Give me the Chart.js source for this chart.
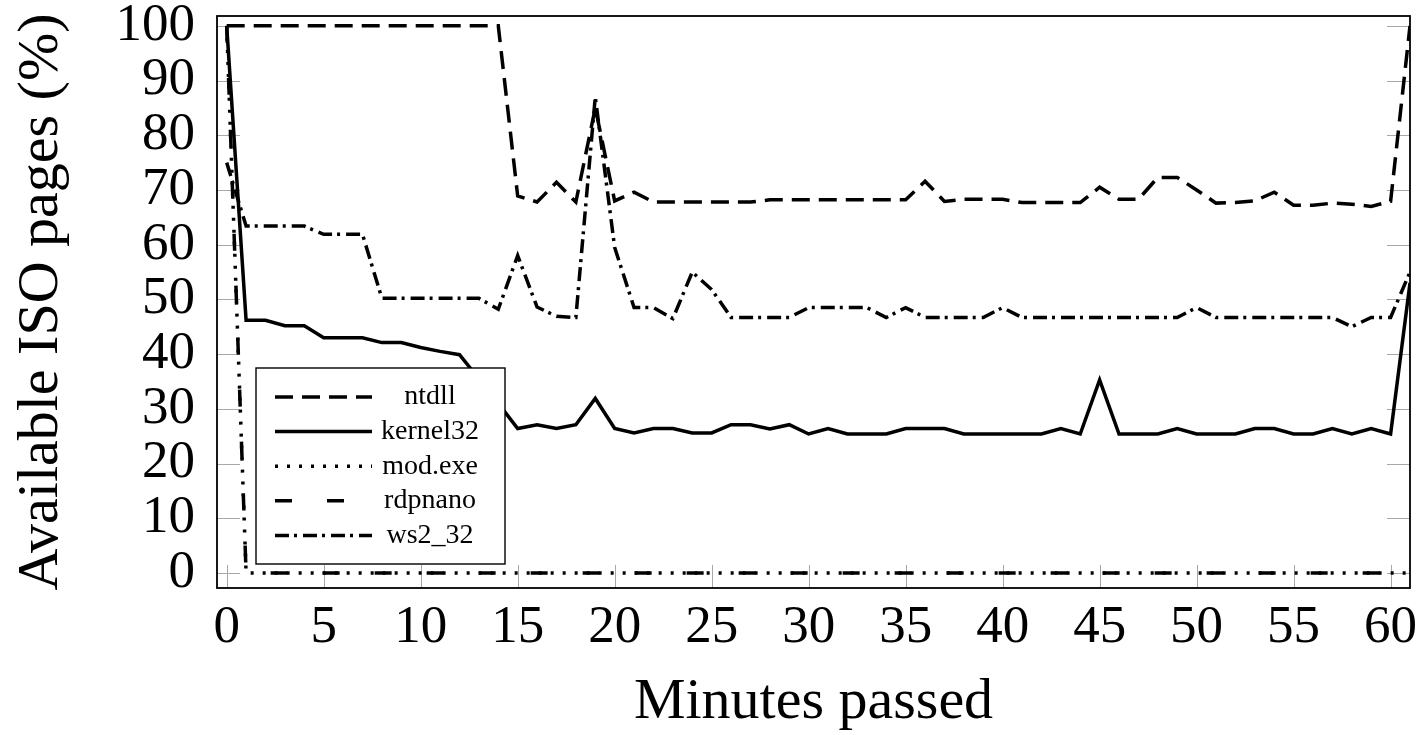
<!DOCTYPE html>
<html>
<head>
<meta charset="utf-8">
<script src="https://cdn.jsdelivr.net/npm/chart.js@4/dist/chart.umd.min.js"></script>
<style>
  html, body { margin: 0; padding: 0; background: #fff; }
  #c { display: block; }
</style>
</head>
<body>
<canvas id="c" width="1422" height="735"></canvas>
<script>
// ---- data ----
const minutes = [0,1,2,3,4,5,6,7,8,9,10,11,12,13,14,15,16,17,18,19,20,21,22,23,24,25,26,27,28,29,30,
  31,32,33,34,35,36,37,38,39,40,41,42,43,44,45,46,47,48,49,50,51,52,53,54,55,56,57,58,59,60,61];

const ntdll = [100,100,100,100,100,100,100,100,100,100,100,100,100,100,100,
  68.9,67.8,71.4,67.8,85,68,69.6,67.8,67.8,67.8,67.8,67.8,67.8,68.2,68.2,68.2,
  68.2,68.2,68.2,68.2,68.2,71.6,67.9,68.3,68.3,68.3,67.7,67.7,67.7,67.7,70.5,68.3,
  68.3,72.3,72.3,70,67.6,67.7,68,69.6,67.2,67.2,67.6,67.4,67,67.9,100];

const kernel32 = [100,46.2,46.2,45.2,45.2,43,43,43,42.1,42.1,41.2,40.5,39.9,35.5,31,
  26.4,27.1,26.4,27.1,31.9,26.4,25.6,26.4,26.4,25.6,25.6,27.1,27.1,26.3,27.1,25.4,
  26.4,25.4,25.4,25.4,26.4,26.4,26.4,25.4,25.4,25.4,25.4,25.4,26.4,25.4,35.3,25.4,
  25.4,25.4,26.4,25.4,25.4,25.4,26.4,26.4,25.4,25.4,26.4,25.4,26.4,25.4,53];

const modexe = [100,0,0,0,0,0,0,0,0,0,0,0,0,0,0,0,0,0,0,0,0,0,0,0,0,0,0,0,0,0,0,
  0,0,0,0,0,0,0,0,0,0,0,0,0,0,0,0,0,0,0,0,0,0,0,0,0,0,0,0,0,0,0];

const rdpnano = [100,0,0,0,0,0,0,0,0,0,0,0,0,0,0,0,0,0,0,0,0,0,0,0,0,0,0,0,0,0,0,
  0,0,0,0,0,0,0,0,0,0,0,0,0,0,0,0,0,0,0,0,0,0,0,0,0,0,0,0,0,0,0];

const ws2_32 = [75,63.4,63.4,63.4,63.4,61.9,61.9,61.9,50.2,50.2,50.2,50.2,50.2,50.2,48.2,
  58,48.6,46.9,46.7,87,59.5,48.5,48.5,46.5,55,51.8,46.7,46.7,46.7,46.7,48.5,
  48.5,48.5,48.5,46.7,48.5,46.7,46.7,46.7,46.7,48.5,46.7,46.7,46.7,46.7,46.7,46.7,
  46.7,46.7,46.7,48.5,46.7,46.7,46.7,46.7,46.7,46.7,46.7,45,46.7,46.7,55];

const seriesLabels = ['ntdll', 'kernel32', 'mod.exe', 'rdpnano', 'ws2_32'];
const xTickStep = 5;
const yTickStep = 10;

// ---- styling ----
const FONT = '"Liberation Serif", "Times New Roman", serif';
const dashes = {
  'ntdll': [18, 9],
  'kernel32': [],
  'mod.exe': [3, 9],
  'rdpnano': [17, 35],
  'ws2_32': [14, 5, 3, 6]
};
const seriesValues = [ntdll, kernel32, modexe, rdpnano, ws2_32];

function toXY(vals) { return minutes.map((m, i) => ({ x: m, y: vals[i] })); }

const datasets = seriesLabels.map((lab, i) => ({
  label: lab,
  data: toXY(seriesValues[i]),
  borderColor: '#000',
  backgroundColor: '#000',
  borderWidth: 3.5,
  borderDash: dashes[lab],
  borderCapStyle: 'butt',
  borderJoinStyle: 'miter',
  pointRadius: 0,
  tension: 0,
  fill: false
}));

// inner tick marks (pgfplots style)
const innerTicks = {
  id: 'innerTicks',
  beforeDatasetsDraw(chart) {
    const { ctx, chartArea: a, scales: { x, y } } = chart;
    const L = 23;
    ctx.save();
    ctx.strokeStyle = '#a8a8a8';
    ctx.lineWidth = 1;
    ctx.beginPath();
    y.ticks.forEach(t => {
      const py = Math.round(y.getPixelForValue(t.value)) + 0.5;
      ctx.moveTo(a.left, py); ctx.lineTo(a.left + L, py);
      ctx.moveTo(a.right, py); ctx.lineTo(a.right - L, py);
    });
    x.ticks.forEach(t => {
      const px = Math.round(x.getPixelForValue(t.value)) + 0.5;
      ctx.moveTo(px, a.bottom); ctx.lineTo(px, a.bottom - L);
    });
    ctx.stroke();
    ctx.restore();
  }
};

// frame + legend box drawn over the lines
const frameAndLegend = {
  id: 'frameAndLegend',
  afterDatasetsDraw(chart) {
    const { ctx, chartArea: a } = chart;
    ctx.save();
    ctx.strokeStyle = '#000';
    ctx.lineWidth = 1.8;
    ctx.strokeRect(a.left, a.top, a.right - a.left, a.bottom - a.top);

    // legend
    const bx = 256, by = 368, bw = 249, bh = 196;
    ctx.fillStyle = '#fff';
    ctx.fillRect(bx, by, bw, bh);
    ctx.lineWidth = 1.4;
    ctx.strokeRect(bx, by, bw, bh);
    const rowY0 = 397, rowStep = 34.6;
    chart.data.datasets.forEach((ds, i) => {
      const ry = rowY0 + i * rowStep;
      ctx.save();
      ctx.strokeStyle = '#000';
      ctx.lineWidth = 3.5;
      ctx.lineCap = 'butt';
      ctx.setLineDash(ds.borderDash || []);
      ctx.beginPath();
      ctx.moveTo(275, ry);
      ctx.lineTo(372, ry);
      ctx.stroke();
      ctx.restore();
      ctx.fillStyle = '#000';
      ctx.font = '28px ' + FONT;
      ctx.textAlign = 'center';
      ctx.textBaseline = 'middle';
      ctx.fillText(ds.label, 430, ry);
    });
    ctx.restore();
  }
};

Chart.defaults.color = '#000';
Chart.defaults.font.family = FONT;

new Chart(document.getElementById('c'), {
  type: 'line',
  data: { datasets },
  options: {
    responsive: false,
    animation: false,
    devicePixelRatio: 1,
    layout: { padding: { left: 0, top: 16, right: 12, bottom: 0 } },
    plugins: { legend: { display: false }, tooltip: { enabled: false } },
    scales: {
      x: {
        type: 'linear',
        min: -0.5,
        max: 61,
        grid: { display: false, drawTicks: false },
        border: { display: false },
        ticks: {
          stepSize: xTickStep,
          includeBounds: false,
          padding: 8,
          maxRotation: 0,
          autoSkip: false,
          font: { size: 53, family: FONT, lineHeight: 1.2 },
          color: '#000'
        },
        title: {
          display: true,
          text: 'Minutes passed',
          font: { size: 58, family: FONT, lineHeight: 1 },
          padding: { top: 0, bottom: 3 },
          color: '#000'
        },
        afterFit(s) { s.height = 147; s.paddingLeft = 0; s.paddingRight = 0; }
      },
      y: {
        type: 'linear',
        min: -2.75,
        max: 101.8,
        grid: { display: false, drawTicks: false },
        border: { display: false },
        ticks: {
          stepSize: yTickStep,
          includeBounds: false,
          padding: 22,
          autoSkip: false,
          font: { size: 53, family: FONT, lineHeight: 1.2 },
          color: '#000'
        },
        title: {
          display: true,
          text: 'Available ISO pages (%)',
          font: { size: 58, family: FONT, lineHeight: 1 },
          padding: { top: 13, bottom: 0 },
          color: '#000'
        },
        afterFit(s) { s.width = 217; s.paddingTop = 0; s.paddingBottom = 0; }
      }
    }
  },
  plugins: [innerTicks, frameAndLegend]
});
</script>
</body>
</html>
